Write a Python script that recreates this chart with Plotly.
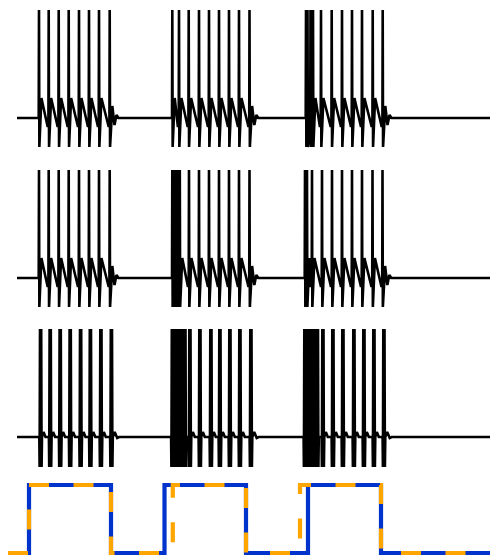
import plotly.graph_objects as go

# ---------------- data (time in ms, voltage in mV) ----------------
T_START_TRACE = 9
T_END = 482
V_REST = -65

ROW1_BURSTS = [
    [31, 40.7, 50.7, 60.7, 71, 81, 91, 101.7],
    [164.3, 171, 180.7, 191, 201, 211, 221, 231, 241.5],
    [298, 299.5, 302.5, 305, 313, 323.7, 334, 344, 354, 364.7, 374.7],
]
ROW2_BURSTS = [
    [31, 40.7, 50.7, 60.7, 71, 81, 91, 101.7],
    [164.3, 166.8, 169.3, 171.8, 181, 191, 201, 211, 221, 231, 241.5],
    [297, 299, 304, 314, 324, 334, 344, 354, 364.5, 374.5],
]
ROW3_BURSTS = [
    [32.7, 42.3, 52.3, 62.3, 72.7, 82.5, 93, 103.5],
    [164.5, 167, 169.5, 172, 174.5, 177, 182, 192, 203, 212, 222, 232, 243],
    [297, 299.5, 302, 304.5, 307, 309.5, 315, 325, 335, 346, 356, 366, 376],
]

# spike waveform templates (offsets from spike time, mV relative to rest)
THIN_CORE_DT = [-0.3, 0.0, 0.35]
THIN_CORE_DV = [None, 110, -29]
THIN_ISI_DT = [2.4, -1.2]          # after spike / before next spike
THIN_ISI_DV = [20, -8]
THIN_TAIL_DT = [2.6, 4.8, 6.8, 8.8]
THIN_TAIL_DV = [12, -7, 3, 0]

WIDE_CORE_DT = [-1.4, -1.1, -0.7, 0.5, 0.9, 1.3]
WIDE_CORE_DV = [0, -30, 109, 109, -30, 0]
WIDE_ISI_DT = [2.8, 4.8]
WIDE_ISI_DV = [5, 0]
WIDE_TAIL_DT = [3.2, 5.7, 7.7]
WIDE_TAIL_DV = [5, -1, 0]

# stimulus square waves (edge times; start low)
BLUE_EDGES = [21, 103, 156.5, 238, 300, 373]
ORANGE_EDGES = [21, 103, 164.8, 238, 292, 373]
STIM_LEVELS = [0, 1]

# page offset of the plot (body margin) is 8 px; positions below are in figure px
ROW_BASELINE_PX = [110, 270, 429]
STIM_PX = (477, 545)
W, H = 492, 552


def thin_trace(bursts):
    xs, ys = [T_START_TRACE], [V_REST]
    for burst in bursts:
        for i, ts in enumerate(burst):
            first = i == 0
            last = i == len(burst) - 1
            for dt, dv in zip(THIN_CORE_DT, THIN_CORE_DV):
                if dv is None:
                    dv = 0 if first else THIN_ISI_DV[-1]
                xs.append(ts + dt)
                ys.append(V_REST + dv)
            if not last:
                nxt = burst[i + 1]
                if nxt - ts > 4:
                    xs += [ts + THIN_ISI_DT[0], nxt + THIN_ISI_DT[1]]
                    ys += [V_REST + THIN_ISI_DV[0], V_REST + THIN_ISI_DV[1]]
            else:
                for dt, dv in zip(THIN_TAIL_DT, THIN_TAIL_DV):
                    xs.append(ts + dt)
                    ys.append(V_REST + dv)
    xs.append(T_END)
    ys.append(V_REST)
    return xs, ys


def wide_trace(bursts):
    xs, ys = [T_START_TRACE], [V_REST]
    for burst in bursts:
        for i, ts in enumerate(burst):
            last = i == len(burst) - 1
            for dt, dv in zip(WIDE_CORE_DT, WIDE_CORE_DV):
                xs.append(ts + dt)
                ys.append(V_REST + dv)
            if not last:
                nxt = burst[i + 1]
                if nxt - ts > 6:
                    for dt, dv in zip(WIDE_ISI_DT, WIDE_ISI_DV):
                        xs.append(ts + dt)
                        ys.append(V_REST + dv)
            else:
                for dt, dv in zip(WIDE_TAIL_DT, WIDE_TAIL_DV):
                    xs.append(ts + dt)
                    ys.append(V_REST + dv)
    xs.append(T_END)
    ys.append(V_REST)
    return xs, ys


def step(edges):
    xs = [0] + edges + [T_END]
    ys = [STIM_LEVELS[(k % 2)] for k in range(len(edges) + 1)]
    ys.append(ys[-1])
    return xs, ys


fig = go.Figure()
traces = [thin_trace(ROW1_BURSTS), thin_trace(ROW2_BURSTS), wide_trace(ROW3_BURSTS)]
for k, (xs, ys) in enumerate(traces):
    ax = "" if k == 0 else str(k + 1)
    fig.add_trace(go.Scatter(x=xs, y=ys, mode="lines",
                             line=dict(color="black", width=2.6),
                             xaxis="x" + ax, yaxis="y" + ax, hoverinfo="skip"))

bx, by = step(BLUE_EDGES)
ox, oy = step(ORANGE_EDGES)
fig.add_trace(go.Scatter(x=bx, y=by, mode="lines", line_shape="hv",
                         line=dict(color="#0033cc", width=4.2),
                         xaxis="x4", yaxis="y4", hoverinfo="skip"))
fig.add_trace(go.Scatter(x=ox, y=oy, mode="lines", line_shape="hv",
                         line=dict(color="#ffa500", width=4.2, dash="20px,24.5px"),
                         xaxis="x4", yaxis="y4", hoverinfo="skip"))

layout = dict(width=W, height=H, margin=dict(l=0, r=0, t=0, b=0),
              paper_bgcolor="white", plot_bgcolor="white", showlegend=False)
xr = [0, W]
for k, B in enumerate(ROW_BASELINE_PX):
    ax = "" if k == 0 else str(k + 1)
    top_px, bot_px = B - 108, B + 35
    layout["xaxis" + ax] = dict(domain=[0, 1], range=xr, visible=False,
                                anchor="y" + ax)
    layout["yaxis" + ax] = dict(domain=[1 - bot_px / H, 1 - top_px / H],
                                range=[V_REST - 35, V_REST + 108],
                                visible=False, anchor="x" + ax)
hi_px, lo_px = STIM_PX
unit = lo_px - hi_px
top_px, bot_px = hi_px - 6, lo_px + 6
layout["xaxis4"] = dict(domain=[0, 1], range=xr, visible=False, anchor="y4")
layout["yaxis4"] = dict(domain=[1 - bot_px / H, 1 - top_px / H],
                        range=[-6 / unit, 1 + 6 / unit], visible=False, anchor="x4")
fig.update_layout(**layout)
fig.write_html("out.html")
